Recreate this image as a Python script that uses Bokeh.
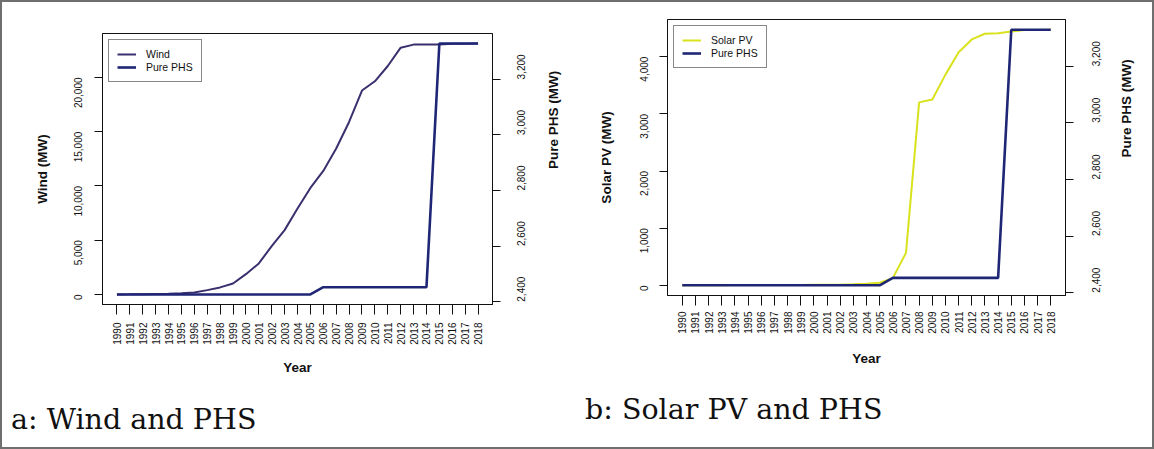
import math

from bokeh.embed import file_html
from bokeh.layouts import column, row
from bokeh.models import (Div, FixedTicker, Legend, LegendItem, LinearAxis,
                          NumeralTickFormatter, Range1d)
from bokeh.plotting import figure
from bokeh.resources import INLINE

# ---- data -----------------------------------------------------------------
years = [1990, 1991, 1992, 1993, 1994, 1995, 1996, 1997, 1998, 1999,
         2000, 2001, 2002, 2003, 2004, 2005, 2006, 2007, 2008, 2009,
         2010, 2011, 2012, 2013, 2014, 2015, 2016, 2017, 2018]

wind_mw = [0, 10, 30, 50, 70, 110, 180, 400, 650, 1010,
           1870, 2860, 4450, 5930, 7920, 9820, 11390, 13450, 15900, 18800,
           19650, 21060, 22750, 23030, 23030, 23030, 23100, 23100, 23130]

solar_mw = [3, 3, 4, 5, 6, 7, 8, 9, 10, 10,
            11, 12, 14, 20, 28, 48, 128, 570, 3200, 3250,
            3685, 4075, 4300, 4400, 4408, 4437, 4466, 4466, 4470]

phs_mw = [2426, 2426, 2426, 2426, 2426, 2426, 2426, 2426, 2426, 2426,
          2426, 2426, 2426, 2426, 2426, 2426, 2452, 2452, 2452, 2452,
          2452, 2452, 2452, 2452, 2452, 3329, 3329, 3329, 3329]

year_ticks = years
wind_ticks = [0, 5000, 10000, 15000, 20000]
solar_ticks = [0, 1000, 2000, 3000, 4000]
phs_ticks = [2400, 2600, 2800, 3000, 3200]

# ---- style ----------------------------------------------------------------
SANS = "Liberation Sans"
SERIF = "DejaVu Serif"
INK = "#111111"
WIND_COLOR = "#3b2f6e"
PHS_COLOR = "#1f2675"
SOLAR_COLOR = "#d9e21c"


def padded(values, frac=0.04):
    lo, hi = min(values), max(values)
    pad = (hi - lo) * frac
    return Range1d(lo - pad, hi + pad)


def style_axis(ax, tick_out, label_standoff, title_standoff):
    ax.axis_line_color = INK
    ax.major_tick_line_color = INK
    ax.major_tick_in = 0
    ax.major_tick_out = tick_out
    ax.minor_tick_line_color = None
    ax.major_label_text_font = SANS
    ax.major_label_text_font_size = "10px"
    ax.major_label_text_color = INK
    ax.major_label_standoff = label_standoff
    ax.axis_label_text_font = SANS
    ax.axis_label_text_font_size = "13.5px"
    ax.axis_label_text_font_style = "bold"
    ax.axis_label_text_color = INK
    ax.axis_label_standoff = title_standoff


def panel(series, series_name, series_color, y_title, y_ticks,
          borders, height, geo, shift=0):
    left, right, top, bottom = borders
    p = figure(width=575, height=height, output_backend="svg",
               toolbar_location=None, title_location=None,
               min_border_left=left, min_border_right=right,
               min_border_top=top, min_border_bottom=bottom,
               x_range=padded(years), y_range=padded(series),
               margin=(shift, 0, 0, 0))
    p.extra_y_ranges = {"phs": padded(phs_mw)}
    p.grid.visible = False
    p.outline_line_color = INK
    p.outline_line_width = 1
    p.background_fill_color = "white"
    p.border_fill_color = None

    xax = p.xaxis[0]
    xax.ticker = FixedTicker(ticks=year_ticks)
    xax.major_label_orientation = math.pi / 2
    xax.axis_label = "Year"
    style_axis(xax, 10, geo["x_std"], geo["x_title"])

    yax = p.yaxis[0]
    yax.ticker = FixedTicker(ticks=y_ticks)
    yax.formatter = NumeralTickFormatter(format="0,0")
    yax.major_label_orientation = math.pi / 2
    yax.axis_label = y_title
    style_axis(yax, 8, geo["l_std"], geo["l_title"])

    rax = LinearAxis(y_range_name="phs", axis_label="Pure PHS (MW)")
    rax.ticker = FixedTicker(ticks=phs_ticks)
    rax.formatter = NumeralTickFormatter(format="0,0")
    rax.major_label_orientation = math.pi / 2
    rax.axis_label_orientation = math.pi / 2
    style_axis(rax, 8, geo["r_std"], geo["r_title"])
    p.add_layout(rax, "right")

    r_main = p.line(years, series, line_color=series_color, line_width=2.0)
    r_phs = p.line(years, phs_mw, line_color=PHS_COLOR, line_width=2.6,
                   y_range_name="phs")

    legend = Legend(items=[LegendItem(label=series_name, renderers=[r_main]),
                           LegendItem(label="Pure PHS", renderers=[r_phs])],
                    location="top_left", margin=6, padding=8, spacing=1,
                    glyph_width=19, glyph_height=12, label_height=12,
                    label_standoff=10, label_text_font=SANS,
                    label_text_font_size="10.5px", label_text_color=INK,
                    border_line_color=INK, border_line_width=1,
                    background_fill_alpha=1.0)
    p.add_layout(legend)
    return p


def caption(text, pad_top, pad_left):
    html = (f'<div style="font-family:\'{SERIF}\'; font-size:28.5px; '
            f'line-height:1; color:#111; white-space:nowrap; '
            f'padding-top:{pad_top}px; padding-left:{pad_left}px;">{text}</div>')
    return Div(text=html, width=575, height=63, margin=(0, 0, 0, 0))


wind_panel = panel(wind_mw, "Wind", WIND_COLOR, "Wind (MW)", wind_ticks,
                   (100, 85, 31, 80), 382,
                   dict(x_std=8, x_title=12, l_std=16, l_title=18,
                        r_std=21, r_title=21))

solar_panel = panel(solar_mw, "Solar PV", SOLAR_COLOR, "Solar PV (MW)",
                    solar_ticks, (90, 87, 31, 80), 387,
                    dict(x_std=6, x_title=14, l_std=15, l_title=20,
                         r_std=23, r_title=19),
                    shift=-14)

page = column(row(wind_panel, solar_panel, margin=(0, 0, 0, 0)),
              row(caption("a: Wind and PHS", 22, 9),
                  caption("b: Solar PV and PHS", 12, 8), margin=(0, 0, 0, 0)),
              margin=(0, 0, 0, 0),
              styles={"border": "2px solid #6f6f6f", "background": "white"})

open("out.html", "w").write(file_html(page, INLINE))
